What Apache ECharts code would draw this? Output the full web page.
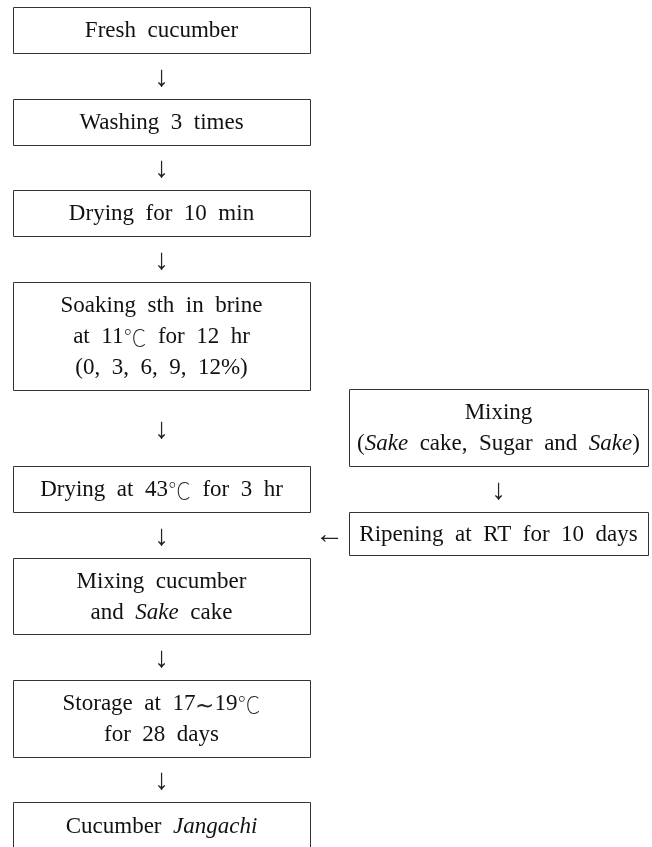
<!DOCTYPE html>
<html>
<head>
<meta charset="utf-8">
<script src="https://cdn.jsdelivr.net/npm/echarts@6/dist/echarts.min.js"></script>
<style>
  html, body { margin: 0; padding: 0; background: #fff; }
  #main { width: 652px; height: 847px; }
</style>
</head>
<body>
<div id="main"></div>
<script>
// step labels ({i|...} = italic, {c|...} = symbol glyphs)
const mainSteps = [
  'Fresh  cucumber',
  'Washing  3  times',
  'Drying  for  10  min',
  'Soaking  sth  in  brine\nat  11{c|℃}  for  12  hr\n(0,  3,  6,  9,  12%)',
  'Drying  at  43{c|℃}  for  3  hr',
  'Mixing  cucumber\nand  {i|Sake}  cake',
  'Storage  at  17{c|∼}19{c|℃}\nfor  28  days',
  'Cucumber  {i|Jangachi}'
]
const sideSteps = [
  'Mixing\n({i|Sake}  cake,  Sugar  and  {i|Sake})',
  'Ripening  at  RT  for  10  days'
]

var chartDom = document.getElementById('main');
var myChart = echarts.init(chartDom);

// box layout (left, top, right, bottom) in page units
const mainCol = [13, 310]
const mainRows = [[7, 53], [99, 145], [190, 236], [282, 390], [466, 512], [558, 634], [680, 757], [802, 850]]
const sideCol = [349, 648]
const sideRows = [[389, 466], [512, 555]]

const font = "'Liberation Serif', 'Times New Roman', 'DejaVu Serif', 'Noto Sans CJK KR', serif"

var boxes = []
mainSteps.forEach(function (t, i) {
  boxes.push({ value: [mainCol[0], mainRows[i][0], mainCol[1], mainRows[i][1]], label: t })
})
sideSteps.forEach(function (t, i) {
  boxes.push({ value: [sideCol[0], sideRows[i][0], sideCol[1], sideRows[i][1]], label: t })
})

// arrows: down arrows between consecutive boxes, plus left arrow into main flow
var arrows = []
for (var i = 0; i < mainRows.length - 1; i++) {
  arrows.push({ value: [(mainCol[0] + mainCol[1]) / 2, (mainRows[i][1] + mainRows[i + 1][0]) / 2], label: '↓' })
}
arrows.push({ value: [(sideCol[0] + sideCol[1]) / 2, (sideRows[0][1] + sideRows[1][0]) / 2], label: '↓' })
arrows.push({ value: [(mainCol[1] + sideCol[0]) / 2, (sideRows[1][0] + sideRows[1][1]) / 2], label: '←' })

var option = {
  animation: false,
  grid: { left: 0, right: 0, top: 0, bottom: 0 },
  xAxis: { type: 'value', min: 0, max: 652, show: false },
  yAxis: { type: 'value', min: 0, max: 847, inverse: true, show: false },
  series: [
    {
      type: 'custom',
      data: boxes,
      renderItem: function (params, api) {
        var p0 = api.coord([api.value(0), api.value(1)])
        var p1 = api.coord([api.value(2), api.value(3)])
        var label = boxes[params.dataIndex].label
        return {
          type: 'group',
          children: [
            {
              type: 'rect',
              shape: { x: Math.round(p0[0]) + 0.5, y: Math.round(p0[1]) + 0.5, width: Math.round(p1[0] - p0[0]), height: Math.round(p1[1] - p0[1]) },
              style: { fill: '#fff', stroke: '#333', lineWidth: 1 }
            },
            {
              type: 'text',
              x: (p0[0] + p1[0]) / 2,
              y: (p0[1] + p1[1]) / 2 + 1,
              style: {
                text: label,
                fontFamily: font,
                fontSize: 23,
                lineHeight: 31,
                align: 'center',
                verticalAlign: 'middle',
                fill: '#111',
                rich: {
                  i: { fontFamily: font, fontSize: 23, lineHeight: 31, fontStyle: 'italic', fill: '#111' },
                  c: { fontFamily: "'Noto Sans CJK KR'", fontWeight: 'lighter', fontSize: 23, lineHeight: 31, fill: '#222' }
                }
              }
            }
          ]
        }
      }
    },
    {
      type: 'custom',
      data: arrows,
      renderItem: function (params, api) {
        var p = api.coord([api.value(0), api.value(1)])
        return {
          type: 'text',
          x: p[0],
          y: p[1] + 2,
          style: {
            text: arrows[params.dataIndex].label,
            fontFamily: font,
            fontSize: 29,
            align: 'center',
            verticalAlign: 'middle',
            fill: '#222'
          }
        }
      }
    }
  ]
};
myChart.setOption(option);
</script>
</body>
</html>
